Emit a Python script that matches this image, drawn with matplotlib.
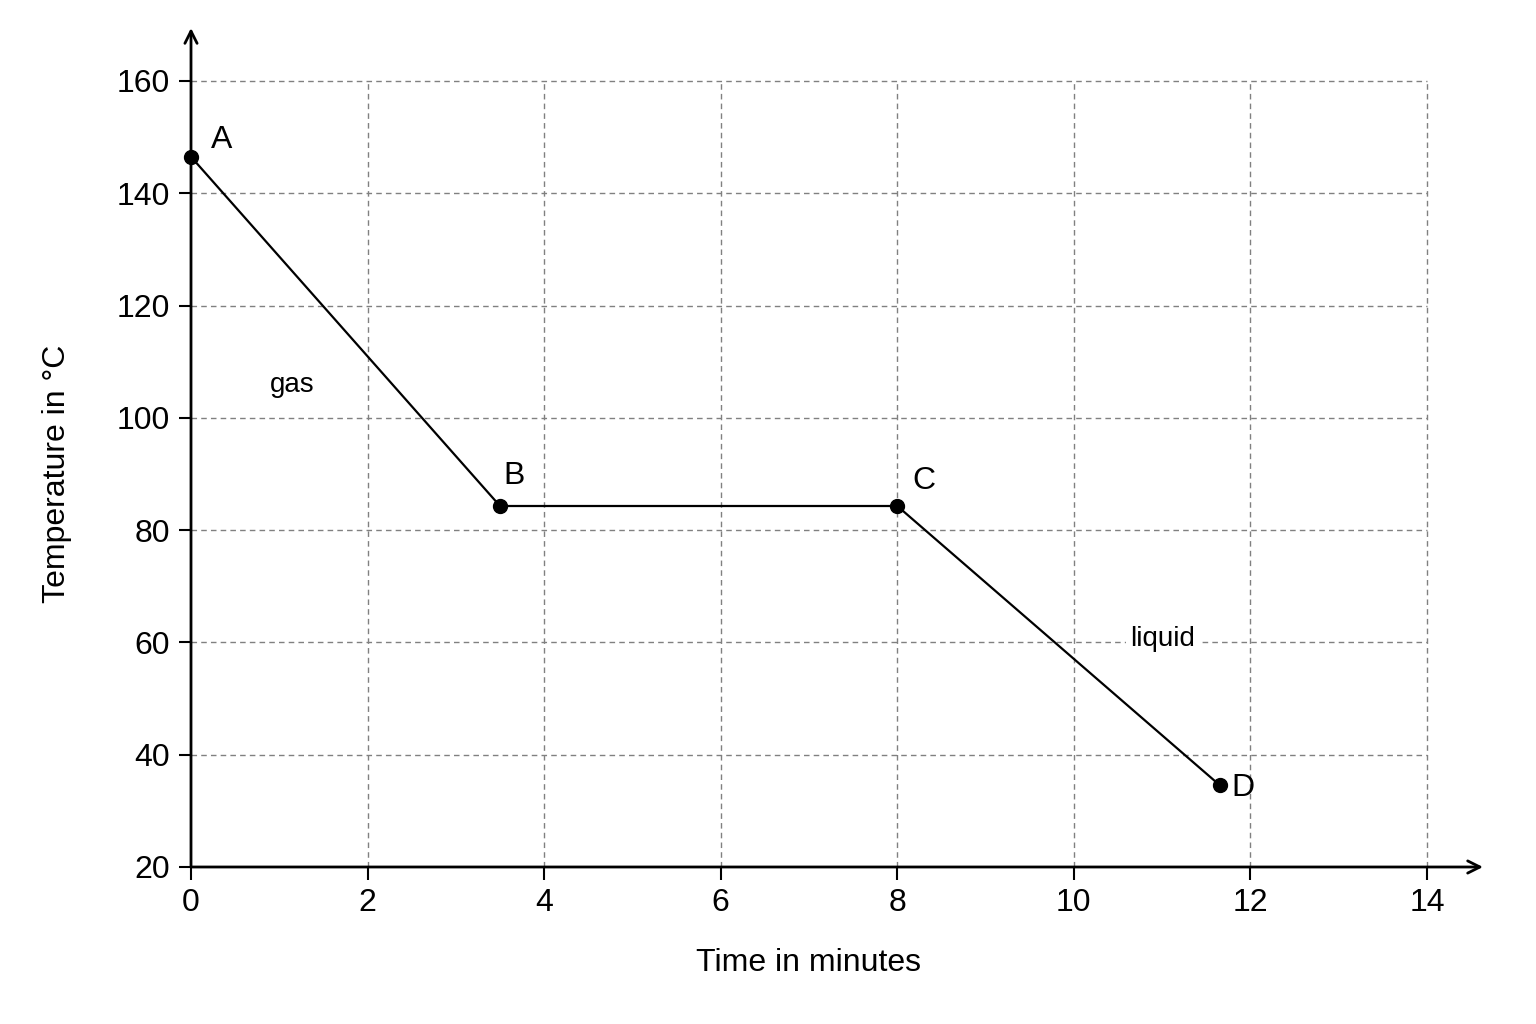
import numpy as np
import matplotlib.pyplot as plt

plt.rcParams["font.family"] = ["Liberation Sans", "DejaVu Sans"]

# Punkty krzywej chłodzenia
labels = ["A", "B", "C", "D"]
time_min = [0.0, 3.5, 8.0, 11.65]
temp_c = [146.5, 84.3, 84.3, 34.6]

x_ticks = [0, 2, 4, 6, 8, 10, 12, 14]
y_ticks = [20, 40, 60, 80, 100, 120, 140, 160]

# przesunięcia etykiet punktów (piksele)
label_offsets = [(31, 17), (14, 30), (27, 25), (23, -3)]

fig = plt.figure(figsize=(15.36, 10.24), dpi=100)
ax = fig.add_axes([191 / 1536, 1 - 867 / 1024, 1236 / 1536, 786 / 1024])
ax.set_xlim(0, 14)
ax.set_ylim(20, 160)

# siatka przerywana
grid_style = dict(color="#808080", lw=1.0, linestyle=(0, (4, 3)), zorder=1, clip_on=False)
ax.hlines(y_ticks[1:], 0, 14, **grid_style)
ax.vlines(x_ticks[1:], 20, 160, **grid_style)

for s in ax.spines.values():
    s.set_visible(False)

# osie ze strzałkami
arrow = dict(arrowstyle="->", lw=2, color="black", mutation_scale=22, shrinkA=0, shrinkB=0)
ax.annotate("", xy=(0, 1.0674), xytext=(0, 0), xycoords="axes fraction", arrowprops=arrow)
ax.annotate("", xy=(1.0453, 0), xytext=(0, 0), xycoords="axes fraction", arrowprops=arrow)

ax.set_xticks(x_ticks)
ax.set_yticks(y_ticks)
ax.tick_params(direction="out", length=9, width=1.5, labelsize=23, pad=6)

ax.plot(time_min, temp_c, color="black", lw=1.6, marker="o", markersize=10, zorder=3, clip_on=False)

for lab, x, y, off in zip(labels, time_min, temp_c, label_offsets):
    ax.annotate(lab, xy=(x, y), xytext=off, textcoords="offset pixels",
                ha="center", va="center", fontsize=23)

ax.text(1.15, 105.8, "gas", fontsize=20, ha="center", va="center")
ax.text(11.0, 60.6, "liquid", fontsize=20, ha="center", va="center",
        bbox=dict(facecolor="white", edgecolor="none", pad=3), zorder=2)

ax.set_xlabel("Time in minutes", fontsize=23, labelpad=22)
ax.set_ylabel("Temperature in °C", fontsize=23, labelpad=32)

fig.savefig("out.png", dpi=100)
